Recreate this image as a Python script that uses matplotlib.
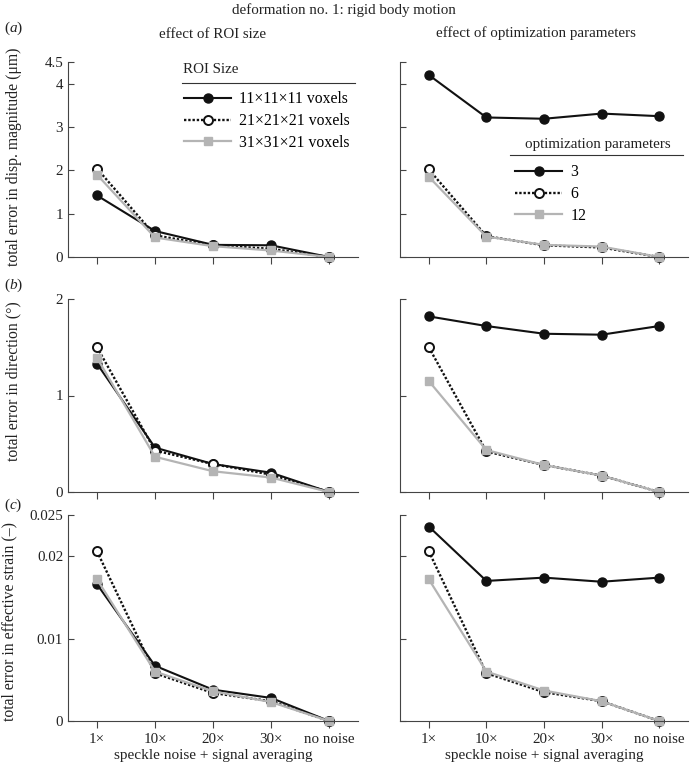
import numpy as np
import matplotlib
matplotlib.use("Agg")
import matplotlib.pyplot as plt

plt.rcParams['font.family'] = ['Liberation Serif', 'DejaVu Serif']
plt.rcParams['mathtext.fontset'] = 'custom'
plt.rcParams['mathtext.rm'] = 'Liberation Serif'
plt.rcParams['mathtext.it'] = 'Liberation Serif:italic'
plt.rcParams['font.size'] = 10

### data
xlabels = ['1\u00d7', '10\u00d7', '20\u00d7', '30\u00d7', 'no noise']
roi_names = ['11\u00d711\u00d711 voxels', '21\u00d721\u00d721 voxels', '31\u00d731\u00d721 voxels']
opt_names = ['3', '6', '12']

# (a) displacement magnitude error (um)
disp_roi = [[1.42, 0.60, 0.28, 0.27, 0.0],
            [2.04, 0.50, 0.27, 0.19, 0.0],
            [1.90, 0.45, 0.25, 0.15, 0.0]]
disp_opt = [[4.20, 3.22, 3.19, 3.31, 3.25],
            [2.02, 0.48, 0.27, 0.22, 0.0],
            [1.85, 0.47, 0.28, 0.24, 0.0]]
# (b) direction error (deg)
dir_roi = [[1.33, 0.46, 0.29, 0.20, 0.0],
           [1.50, 0.43, 0.29, 0.18, 0.0],
           [1.39, 0.365, 0.215, 0.15, 0.0]]
dir_opt = [[1.82, 1.72, 1.64, 1.63, 1.72],
           [1.50, 0.42, 0.28, 0.17, 0.0],
           [1.15, 0.435, 0.28, 0.17, 0.0]]
# (c) effective strain error
strain_roi = [[0.0166, 0.0067, 0.0038, 0.0028, 0.0],
              [0.0206, 0.0058, 0.0034, 0.0024, 0.0],
              [0.0172, 0.0060, 0.0036, 0.0023, 0.0]]
strain_opt = [[0.0236, 0.0170, 0.0174, 0.0169, 0.0174],
              [0.0206, 0.0058, 0.0035, 0.0024, 0.0],
              [0.0172, 0.0060, 0.0037, 0.0024, 0.0]]

rows = [(disp_roi, disp_opt, [0, 1, 2, 3, 4, 4.5], ['0', '1', '2', '3', '4', '4.5'], 4.5,
         'total error in disp. magnitude (\u03bcm)'),
        (dir_roi, dir_opt, [0, 1, 2], ['0', '1', '2'], 2.0,
         'total error in direction (\u00b0)'),
        (strain_roi, strain_opt, [0, 0.01, 0.02, 0.025], ['0', '0.01', '0.02', '0.025'], 0.025,
         'total error in effective strain (\u2013)')]
ylab_pos = [(-0.16, 0.513), (-0.16, 0.575), (-0.175, 0.485)]

styles = [dict(color='#111111', lw=1.5, ls='-', marker='o', ms=6.5, mfc='#111111', mec='#111111'),
          dict(color='#111111', lw=1.7, ls=(0, (1, 0.8)), marker='o', ms=6.5, mfc='white',
               mec='#111111', mew=1.4),
          dict(color='#b4b4b4', lw=1.6, ls='-', marker='s', ms=6.3, mfc='#b4b4b4', mec='#b4b4b4')]

W, H = 695, 762
fig = plt.figure(figsize=(W/100, H/100), dpi=100)

row_px = [(62, 257), (299, 492), (515, 721)]
col_px = [(68, 358), (400, 688)]
x = np.arange(len(xlabels))
tc = '#222222'

axes = []
for r, (roi, opt, yt, ytl, ymax, ylab) in enumerate(rows):
    top, bot = row_px[r]
    for c in range(2):
        l, rr = col_px[c]
        ax = fig.add_axes([l/W, 1-bot/H, (rr-l)/W, (bot-top)/H])
        data = roi if c == 0 else opt
        names = roi_names if c == 0 else opt_names
        for k in range(3):
            ax.plot(x, data[k], label=names[k], clip_on=False, **styles[k])
        ax.set_xlim(-0.5, 4.5)
        ax.set_ylim(0, ymax)
        ax.set_yticks(yt)
        if c == 0:
            ax.set_yticklabels(ytl)
            ax.set_ylabel(ylab, color=tc, fontsize=11.3)
            ax.yaxis.set_label_coords(*ylab_pos[r])
        else:
            ax.set_yticklabels([])
        ax.set_xticks(x)
        if r == 2:
            ax.set_xticklabels(xlabels)
            ax.set_xlabel('speckle noise + signal averaging', color=tc, labelpad=2, fontsize=11)
        else:
            ax.set_xticklabels([])
        for s in ['top', 'right']:
            ax.spines[s].set_visible(False)
        for s in ['left', 'bottom']:
            ax.spines[s].set_color('#444444')
            ax.spines[s].set_linewidth(0.8)
        ax.tick_params(axis='y', direction='in', length=4, width=0.8, colors='#444444',
                       labelcolor=tc, labelsize=10.8)
        ax.tick_params(axis='x', direction='out', length=5, width=0.8, colors='#444444',
                       labelcolor=tc, labelsize=10.8)
        axes.append(ax)

# legends: title as text, rule underneath, entries below
ax = axes[0]
ax.text(0.397, 0.959, 'ROI Size', transform=ax.transAxes, ha='left', va='center',
        color=tc, fontsize=10.8)
ax.plot([0.393, 0.99], [0.892, 0.892], transform=ax.transAxes, color='#333333', lw=0.8,
        clip_on=False)
ax.legend(loc='upper left', bbox_to_anchor=(0.40, 0.85), frameon=False, handlelength=3.0,
          handletextpad=0.5, labelspacing=0.37, borderpad=0, borderaxespad=0, fontsize=11.3)

ax = axes[1]
ax.text(0.434, 0.579, 'optimization parameters', transform=ax.transAxes, ha='left',
        va='center', color=tc, fontsize=10.8)
ax.plot([0.382, 0.983], [0.523, 0.523], transform=ax.transAxes, color='#333333', lw=0.8,
        clip_on=False)
ax.legend(loc='upper left', bbox_to_anchor=(0.40, 0.475), frameon=False, handlelength=3.0,
          handletextpad=0.5, labelspacing=0.37, borderpad=0, borderaxespad=0, fontsize=11.3)

fig.text(344/W, 1-10/H, 'deformation no. 1: rigid body motion', ha='center', va='center',
         color=tc, fontsize=10.8)
fig.text(213/W, 1-35/H, 'effect of ROI size', ha='center', va='center', color=tc, fontsize=10.8)
fig.text(536/W, 1-33/H, 'effect of optimization parameters', ha='center', va='center',
         color=tc, fontsize=10.8)
for lab, yy in [('a', 28), ('b', 285), ('c', 505)]:
    fig.text(4/W, 1-yy/H, r'($\mathit{%s}$)' % lab, ha='left', va='center', color=tc, fontsize=11)

fig.savefig('out.png', dpi=100)
